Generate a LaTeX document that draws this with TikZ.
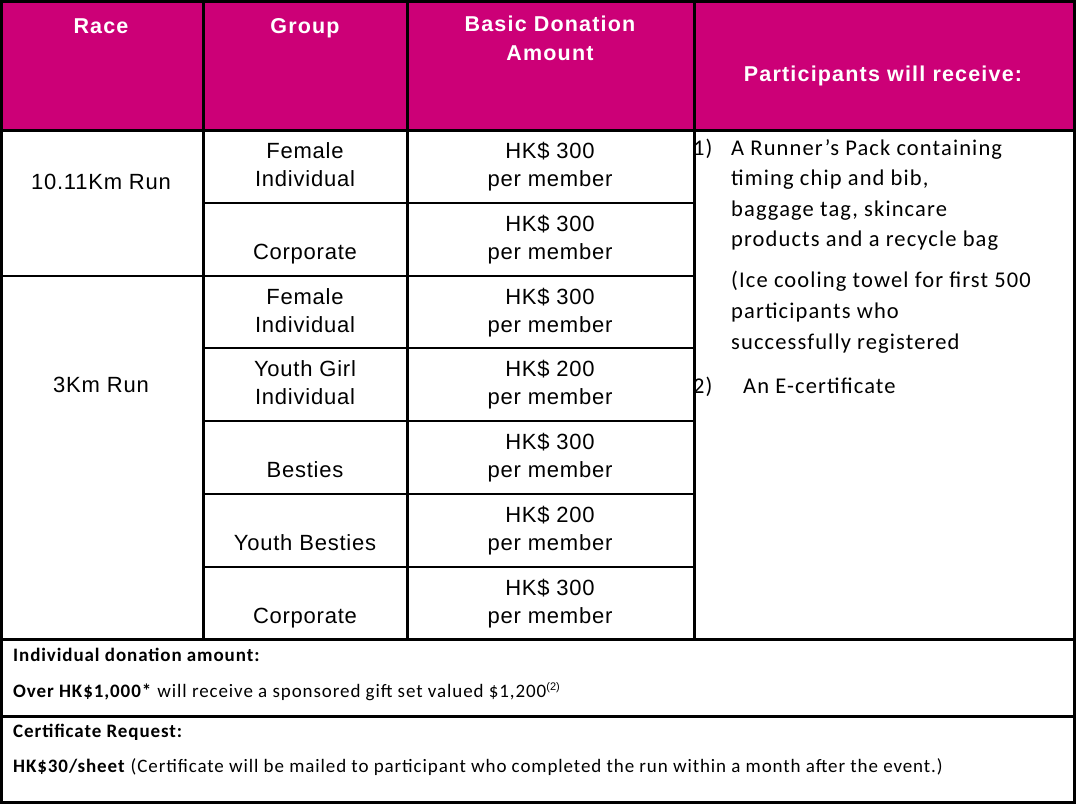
\documentclass[tikz,border=0pt]{standalone}
\usepackage{fontspec}
\setmainfont[LetterSpace=3.5]{Liberation Sans}
\newfontfamily\hdrfont[LetterSpace=5.5]{Liberation Sans}
\newfontfamily\calfont[LetterSpace=5]{Carlito}
\newfontfamily\notefont[LetterSpace=4.8]{Carlito}
\newfontfamily\supfont{Liberation Sans}
\definecolor{hdr}{RGB}{204,0,119}
\begin{document}
\begin{tikzpicture}[x=1pt,y=-1pt,
  hdrtext/.style={text=white,font=\hdrfont\fontsize{21.5}{29}\selectfont\bfseries,anchor=base,inner sep=0pt},
  celltext/.style={text=black,font=\fontsize{22}{28}\selectfont,anchor=base,inner sep=0pt},
  listtext/.style={text=black,font=\calfont\fontsize{22.5}{31}\selectfont,anchor=base west,inner sep=0pt},
  notetext/.style={text=black,font=\notefont\fontsize{19}{24}\selectfont,anchor=base west,inner sep=0pt},
  gridthick/.style={line width=3pt,black},
  gridthin/.style={line width=2pt,black}]
\useasboundingbox (0,0) rectangle (1077,804);
\fill[white] (0,0) rectangle (1077,804);
% header background
\fill[hdr] (0,0) rectangle (1075,130);

% grid
\draw[gridthin] (0,276) -- (694,276);
\foreach \yy in {203,348,421,494,567} \draw[gridthin] (203,\yy) -- (694,\yy);
\draw[gridthick] (0,130) -- (1075,130);
\draw[gridthick] (0,639) -- (1075,639);
\draw[gridthick] (0,716) -- (1075,716);
\draw[gridthick] (203,0) -- (203,639);
\draw[gridthick] (407,0) -- (407,639);
\draw[gridthick] (694,0) -- (694,639);
\draw[gridthick] (1.5,1.5) rectangle (1074,802);

% header texts
\node[hdrtext] (hrace) at (101,33) {Race};
\node[hdrtext] (hgroup) at (305,33) {Group};
\node[hdrtext] (hbasic1) at (550,31) {Basic Donation};
\node[hdrtext] (hbasic2) at (550,60) {Amount};
\node[hdrtext] (hpart) at (883,81) {Participants will receive:};

% race column
\node[celltext] (race1) at (101,189) {10.11Km Run};
\node[celltext] (race2) at (101,392) {3Km Run};

% group column
\node[celltext] (g1a) at (305,158) {Female};
\node[celltext] (g1b) at (305,186) {Individual};
\node[celltext] (g2b) at (305,259) {Corporate};
\node[celltext] (g3a) at (305,304) {Female};
\node[celltext] (g3b) at (305,332) {Individual};
\node[celltext] (g4a) at (305,376) {Youth Girl};
\node[celltext] (g4b) at (305,404) {Individual};
\node[celltext] (g5b) at (305,477) {Besties};
\node[celltext] (g6b) at (305,550) {Youth Besties};
\node[celltext] (g7b) at (305,623) {Corporate};

% amount column
\node[celltext] (a1a) at (550,158) {HK\$ 300};
\node[celltext] (a1b) at (550,186) {per member};
\node[celltext] (a2a) at (550,231) {HK\$ 300};
\node[celltext] (a2b) at (550,259) {per member};
\node[celltext] (a3a) at (550,304) {HK\$ 300};
\node[celltext] (a3b) at (550,332) {per member};
\node[celltext] (a4a) at (550,376) {HK\$ 200};
\node[celltext] (a4b) at (550,404) {per member};
\node[celltext] (a5a) at (550,449) {HK\$ 300};
\node[celltext] (a5b) at (550,477) {per member};
\node[celltext] (a6a) at (550,522) {HK\$ 200};
\node[celltext] (a6b) at (550,550) {per member};
\node[celltext] (a7a) at (550,595) {HK\$ 300};
\node[celltext] (a7b) at (550,623) {per member};

% participants list
\node[listtext] (n1) at (693,155) {1)};
\node[listtext] (l1) at (731,155) {A Runner’s Pack containing};
\node[listtext] (l2) at (731,185) {timing chip and bib,};
\node[listtext] (l3) at (731,216) {baggage tag, skincare};
\node[listtext] (l4) at (731,246) {products and a recycle bag};
\node[listtext] (l5) at (731,287) {(Ice cooling towel for first 500};
\node[listtext] (l6) at (731,318) {participants who};
\node[listtext] (l7) at (731,349) {successfully registered};
\node[listtext] (n2) at (693,393) {2)};
\node[listtext] (l8) at (743,393) {An E-certificate};

% notes
\node[notetext] (b1) at (13,661) {\bfseries Individual donation amount:};
\node[notetext] (b2) at (13,697) {\textbf{Over HK\$1,000*} will receive a sponsored gift set valued \$1,200\raisebox{7pt}{\supfont\fontsize{11}{11}\selectfont(2)}};
\node[notetext] (b3) at (13,737) {\bfseries Certificate Request:};
\node[notetext] (b4) at (13,772) {\textbf{HK\$30/sheet} (Certificate will be mailed to participant who completed the run within a month after the event.)};
\end{tikzpicture}
\end{document}
